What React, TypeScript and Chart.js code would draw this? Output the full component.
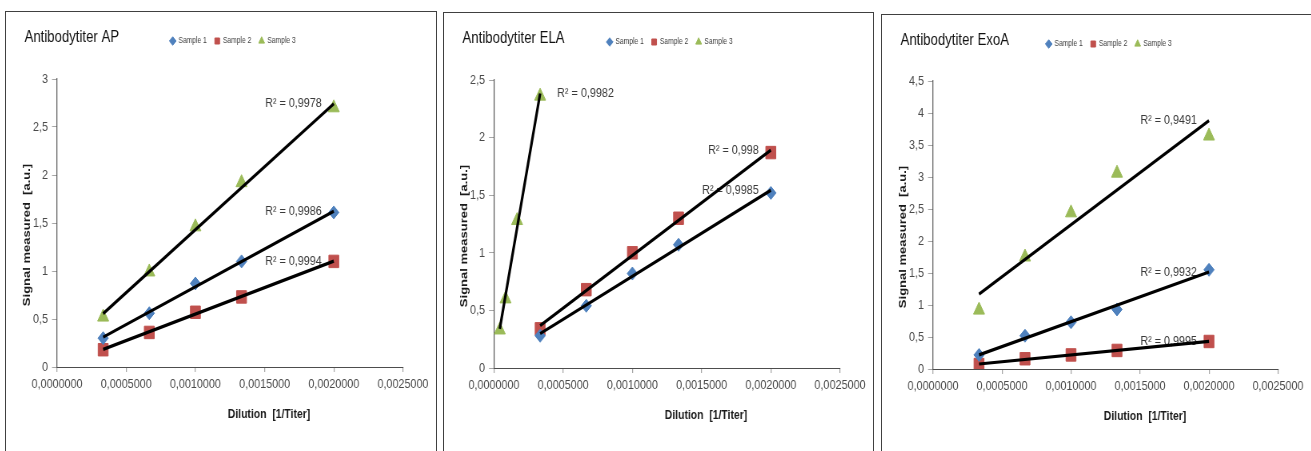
import React, { useEffect, useRef } from "react";
import { Chart, registerables } from "chart.js";

Chart.register(...registerables);

// ---------------- DATA ----------------
const seriesNames = ["Sample 1", "Sample 2", "Sample 3"];
const xTickMin = 0;
const xTickMax = 0.0025;
const xTickStep = 0.0005;
const yTickStep = 0.5;

const dilutions = [1 / 3000, 1 / 1500, 1 / 1000, 1 / 750, 1 / 500];
const elaSample3Dilutions = [1 / 24000, 1 / 12000, 1 / 6000, 1 / 3000];

const apTitle = "Antibodytiter AP";
const apSample1 = [0.3, 0.56, 0.87, 1.1, 1.61];
const apSample2 = [0.18, 0.36, 0.57, 0.73, 1.1];
const apSample3 = [0.52, 0.99, 1.46, 1.92, 2.7];
const apR2 = ["R² = 0,9986", "R² = 0,9994", "R² = 0,9978"];
const apYMax = 3;

const elaTitle = "Antibodytiter ELA";
const elaSample1 = [0.28, 0.54, 0.82, 1.07, 1.52];
const elaSample2 = [0.34, 0.68, 1.0, 1.3, 1.87];
const elaSample3 = [0.33, 0.6, 1.28, 2.36];
const elaR2 = ["R² = 0,9985", "R² = 0,998", "R² = 0,9982"];
const elaYMax = 2.5;

const exoTitle = "Antibodytiter ExoA";
const exoSample1 = [0.22, 0.52, 0.73, 0.93, 1.55];
const exoSample2 = [0.07, 0.16, 0.22, 0.29, 0.43];
const exoSample3 = [0.92, 1.75, 2.44, 3.06, 3.64];
const exoR2 = ["R² = 0,9932", "R² = 0,9995", "R² = 0,9491"];
const exoYMax = 4.5;

const xAxisTitle = "Dilution  [1/Titer]";
const yAxisTitle = "Signal measured  [a.u.]";

// ---------------- STYLE ----------------
const SANS = '"Liberation Sans", Arial, sans-serif';
const COLORS = ["#4F81BD", "#C0504D", "#9BBB59"];
const POINT_STYLES = ["rectRot", "rect", "triangle"];
const POINT_RADII = [6.5, 8.8, 8];
const LEG_FONT = 8.4;
const LEG_PAD = 10;
const CANVAS_H = 440;
const SQUEEZE = 0.8; // horizontal compression of the original picture

const rightLabel = { align: "right", dx: -12 };
const leftLabel = { align: "left", dx: 17 };

const PANELS = [
  {
    title: apTitle,
    xs: [dilutions, dilutions, dilutions],
    ys: [apSample1, apSample2, apSample3],
    r2: apR2,
    yMax: apYMax,
    box: { left: 5, top: 11, width: 432 },
    plot: { left: 57, right: 403, top: 79, bottom: 367 },
    r2Place: [rightLabel, rightLabel, rightLabel],
  },
  {
    title: elaTitle,
    xs: [dilutions, dilutions, elaSample3Dilutions],
    ys: [elaSample1, elaSample2, elaSample3],
    r2: elaR2,
    yMax: elaYMax,
    box: { left: 443, top: 12, width: 431 },
    plot: { left: 494, right: 840, top: 80, bottom: 368 },
    r2Place: [rightLabel, rightLabel, leftLabel],
  },
  {
    title: exoTitle,
    xs: [dilutions, dilutions, dilutions],
    ys: [exoSample1, exoSample2, exoSample3],
    r2: exoR2,
    yMax: exoYMax,
    box: { left: 881, top: 14, width: 432 },
    plot: { left: 933, right: 1278, top: 81, bottom: 369 },
    r2Place: [rightLabel, rightLabel, rightLabel],
  },
];

function linearFit(xs: number[], ys: number[]) {
  const n = xs.length;
  const mx = xs.reduce((a, b) => a + b, 0) / n;
  const my = ys.reduce((a, b) => a + b, 0) / n;
  let sxy = 0;
  let sxx = 0;
  for (let i = 0; i < n; i++) {
    sxy += (xs[i] - mx) * (ys[i] - my);
    sxx += (xs[i] - mx) * (xs[i] - mx);
  }
  const slope = sxy / sxx;
  const intercept = my - slope * mx;
  return (x: number) => intercept + slope * x;
}

function ChartPanel({ p }: { p: any }) {
  const ref = useRef<HTMLCanvasElement | null>(null);
  const W = p.box.width - 2;
  const Wi = Math.round(W / SQUEEZE);

  useEffect(() => {
    const canvas = ref.current;
    if (!canvas) return;
    const K = W / Wi;
    const ox = p.box.left + 1;
    const oy = p.box.top + 1;
    const plotL = (p.plot.left - ox) / K;
    const plotR = (p.plot.right - ox) / K;
    const plotT = p.plot.top - oy;
    const plotB = p.plot.bottom - oy;
    const padL = 0;
    const padR = Wi - plotR;
    const padB = 0;
    const legendH = LEG_FONT + LEG_PAD + 10;
    const padT = plotT - legendH;
    const xScaleH = CANVAS_H - plotB - padB;
    const yScaleW = plotL - padL;

    const legendCenterTarget = (p.plot.left + 176 - ox) / K;
    const legendDx = legendCenterTarget - (padL + (Wi - padR)) / 2;
    const legendDy = 29 - (padT + LEG_PAD + LEG_FONT / 2);

    const trends = p.xs.map((xs: number[], i: number) => {
      const f = linearFit(xs, p.ys[i]);
      const x1 = Math.min(...xs);
      const x2 = Math.max(...xs);
      return { x1, x2, y1: f(x1), y2: f(x2) };
    });

    const pointSets = seriesNames.map((name, i) => ({
      label: name,
      data: p.xs[i].map((x: number, j: number) => ({ x, y: p.ys[i][j] })),
      backgroundColor: COLORS[i],
      borderColor: COLORS[i],
      borderWidth: 1,
      pointStyle: POINT_STYLES[i],
      pointRadius: POINT_RADII[i],
      pointHoverRadius: POINT_RADII[i],
      order: 1,
    }));
    const trendSets = trends.map((t: any, i: number) => ({
      label: "trend" + i,
      data: [
        { x: t.x1, y: t.y1 },
        { x: t.x2, y: t.y2 },
      ],
      showLine: true,
      borderColor: "#000000",
      backgroundColor: "#000000",
      borderWidth: 3.2,
      pointRadius: 0,
      pointHoverRadius: 0,
      fill: false,
      order: 0,
      isTrend: true,
    }));

    const legendShift = {
      id: "legendShift",
      afterLayout(chart: any) {
        const lg = chart.legend;
        if (!lg) return;
        lg.left += legendDx;
        lg.right += legendDx;
        lg.top += legendDy;
        lg.bottom += legendDy;
      },
    };

    const annotate = {
      id: "annotate",
      beforeDatasetsDraw(chart: any) {
        const { ctx, scales } = chart;
        ctx.save();
        ctx.font = `13.5px ${SANS}`;
        ctx.fillStyle = "#3a3a3a";
        ctx.textBaseline = "middle";
        trends.forEach((t: any, i: number) => {
          const place = p.r2Place[i];
          const px = scales.x.getPixelForValue(t.x2) + place.dx / K;
          const py = scales.y.getPixelForValue(t.y2);
          ctx.textAlign = place.align;
          ctx.fillText(p.r2[i], px, py);
        });
        ctx.restore();
      },
      afterDraw(chart: any) {
        const { ctx, chartArea } = chart;
        ctx.save();
        // chart title
        ctx.font = `16.5px ${SANS}`;
        ctx.fillStyle = "#111111";
        ctx.textAlign = "left";
        ctx.textBaseline = "alphabetic";
        ctx.fillText(p.title, 18.5 / K, 29.5);
        // x axis title
        ctx.font = `bold 13px ${SANS}`;
        ctx.fillStyle = "#1a1a1a";
        ctx.textAlign = "center";
        ctx.textBaseline = "middle";
        ctx.fillText(xAxisTitle, chartArea.left + 212 / K, chartArea.bottom + 47);
        // y axis title
        ctx.translate(chartArea.left - 30 / K, chartArea.top + 156);
        ctx.rotate(-Math.PI / 2);
        ctx.font = `bold 13px ${SANS}`;
        ctx.fillText(yAxisTitle, 0, 0);
        ctx.restore();
      },
    };

    const chart = new Chart(canvas, {
      type: "scatter",
      data: { datasets: [...pointSets, ...trendSets] as any },
      options: {
        responsive: false,
        animation: false,
        devicePixelRatio: 1,
        events: [],
        layout: { padding: { left: padL, right: padR, top: padT, bottom: padB } },
        plugins: {
          tooltip: { enabled: false },
          title: { display: false },
          legend: {
            display: true,
            position: "top",
            align: "center",
            labels: {
              usePointStyle: true,
              boxWidth: 6,
              boxHeight: 6,
              padding: LEG_PAD,
              color: "#404040",
              font: { family: SANS, size: LEG_FONT },
              filter: (item: any, data: any) => !data.datasets[item.datasetIndex].isTrend,
            },
          },
        },
        scales: {
          x: {
            type: "linear",
            min: xTickMin,
            max: xTickMax,
            afterFit: (s: any) => {
              s.height = xScaleH;
            },
            grid: {
              display: true,
              drawOnChartArea: false,
              drawTicks: true,
              tickLength: 5,
              lineWidth: 1 / K,
              color: "#a6a6a6",
            },
            border: { display: true, color: "#4d4d4d", width: 1 },
            ticks: {
              stepSize: xTickStep,
              autoSkip: false,
              maxRotation: 0,
              padding: 4,
              color: "#4a4a4a",
              font: { family: SANS, size: 13.5 },
              callback: (v: any) => Number(v).toFixed(7).replace(".", ","),
            },
          },
          y: {
            type: "linear",
            min: 0,
            max: p.yMax,
            afterFit: (s: any) => {
              s.width = yScaleW;
            },
            grid: {
              display: true,
              drawOnChartArea: false,
              drawTicks: true,
              tickLength: 5 / K,
              color: "#a6a6a6",
            },
            border: { display: true, color: "#595959", width: 1 / K },
            ticks: {
              stepSize: yTickStep,
              padding: 4 / K,
              color: "#4a4a4a",
              font: { family: SANS, size: 13.5 },
              callback: (v: any) => String(Math.round(Number(v) * 10) / 10).replace(".", ","),
            },
          },
        },
      } as any,
      plugins: [legendShift, annotate],
    });
    return () => chart.destroy();
  }, [p, W, Wi]);

  return (
    <div
      style={{
        position: "absolute",
        left: p.box.left,
        top: p.box.top,
        width: p.box.width,
        height: 470,
        border: "1px solid #404040",
        boxSizing: "border-box",
        background: "#ffffff",
      }}
    >
      <canvas ref={ref} width={Wi} height={CANVAS_H} style={{ display: "block", width: W, height: CANVAS_H }} />
    </div>
  );
}

export default function App() {
  return (
    <div
      style={{
        position: "fixed",
        left: 0,
        top: 0,
        width: 1311,
        height: 451,
        overflow: "hidden",
        background: "#ffffff",
      }}
    >
      {PANELS.map((p, i) => (
        <ChartPanel key={i} p={p} />
      ))}
    </div>
  );
}
